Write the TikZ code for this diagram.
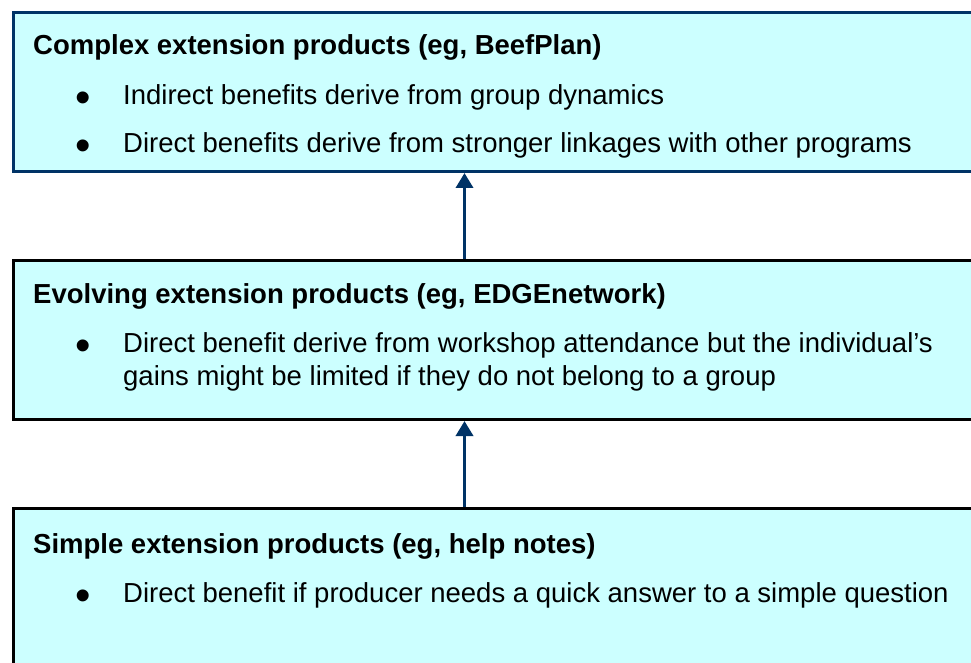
\documentclass[tikz,border=0pt]{standalone}
\usepackage{fontspec}
\setmainfont{Liberation Sans}
\usetikzlibrary{arrows.meta}

\definecolor{navyline}{RGB}{0,51,102}
\definecolor{boxfill}{RGB}{204,255,255}

\begin{document}
\begin{tikzpicture}[
    x=1pt, y=-1pt,
    level/.style={rectangle, draw, fill=boxfill, line width=3pt, anchor=north west, minimum width=1000pt, minimum height=159pt, inner sep=0pt},
    heading/.style={anchor=base west, inner sep=0pt, font=\fontsize{27.5}{33}\selectfont\bfseries},
    dot/.style={anchor=base, inner sep=0pt, font=\fontsize{44}{44}\selectfont},
    item/.style={anchor=base west, inner sep=0pt, align=left, font=\fontsize{27.5}{33}\selectfont},
    arrow/.style={-{Triangle[length=15pt,width=17pt]}, draw=navyline, line width=3.5pt}
]
\useasboundingbox (0,0) rectangle (971,663);
\clip (0,0) rectangle (971,663);

% Top level
\node[level, draw=navyline] (complex) at (12,11) {};
\node[heading] (complexhead) at (33,55) {Complex extension products (eg, BeefPlan)};
\node[dot] (complexdota) at (83,113) {•};
\node[item] (complexa) at (123,105) {Indirect benefits derive from group dynamics};
\node[dot] (complexdotb) at (83,161) {•};
\node[item] (complexb) at (123,153) {Direct benefits derive from stronger linkages with other programs};

% Second level
\node[level, draw=black] (evolving) at (12,259) {};
\node[heading] (evolvinghead) at (33,303) {Evolving extension products (eg, EDGEnetwork)};
\node[dot] (evolvingdot) at (83,360) {•};
\node[item] (evolvinga) at (123,385) {Direct benefit derive from workshop attendance but the individual’s\\gains might be limited if they do not belong to a group};

% Third level
\node[level, draw=black, minimum height=200pt] (simple) at (12,507) {};
\node[heading] (simplehead) at (33,553) {Simple extension products (eg, help notes)};
\node[dot] (simpledot) at (83,610) {•};
\node[item] (simplea) at (123,602) {Direct benefit if producer needs a quick answer to a simple question};

% Links between levels
\draw[arrow] ([xshift=-49pt]evolving.north) -- ([xshift=-49pt]complex.south);
\draw[arrow] ([xshift=-49pt]simple.north) -- ([xshift=-49pt]evolving.south);

\end{tikzpicture}
\end{document}
